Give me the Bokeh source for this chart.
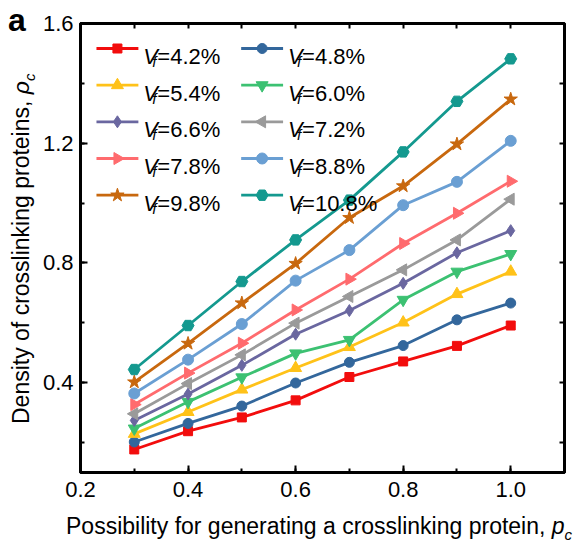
import math
from bokeh.plotting import figure
from bokeh.layouts import column, row
from bokeh.models import (LinearAxis, Range1d, SingleIntervalTicker, FixedTicker,
                          PrintfTickFormatter, Div)
from bokeh.core.properties import value
from bokeh.embed import file_html
from bokeh.resources import INLINE

# ---------------- data ----------------
p_c = [0.3, 0.4, 0.5, 0.6, 0.7, 0.8, 0.9, 1.0]
labels = ["4.2%", "4.8%", "5.4%", "6.0%", "6.6%", "7.2%", "7.8%", "8.8%", "9.8%", "10.8%"]
vf42 = [0.177, 0.238, 0.284, 0.341, 0.419, 0.471, 0.523, 0.591]
vf48 = [0.202, 0.264, 0.322, 0.399, 0.468, 0.524, 0.610, 0.666]
vf54 = [0.229, 0.302, 0.377, 0.449, 0.519, 0.601, 0.696, 0.771]
vf60 = [0.247, 0.336, 0.418, 0.498, 0.543, 0.677, 0.771, 0.830]
vf66 = [0.274, 0.362, 0.458, 0.562, 0.641, 0.732, 0.834, 0.908]
vf72 = [0.296, 0.397, 0.493, 0.599, 0.688, 0.777, 0.877, 1.013]
vf78 = [0.327, 0.432, 0.532, 0.643, 0.746, 0.865, 0.966, 1.073]
vf88 = [0.364, 0.477, 0.596, 0.741, 0.843, 0.993, 1.071, 1.208]
vf98 = [0.402, 0.531, 0.666, 0.798, 0.951, 1.057, 1.197, 1.347]
vf108 = [0.444, 0.591, 0.738, 0.877, 1.010, 1.171, 1.340, 1.482]
series = [vf42, vf48, vf54, vf60, vf66, vf72, vf78, vf88, vf98, vf108]

x_minor_ticks = [0.3, 0.4, 0.5, 0.6, 0.7, 0.8, 0.9, 1.0]
y_minor_ticks = [0.2, 0.4, 0.6, 0.8, 1.0, 1.2, 1.4]

x_title = "Possibility for generating a crosslinking protein, "
y_title = "Density of crosslinking proteins, "

# ---------------- styles ----------------
colors = ["#F20D0D", "#33679C", "#FFC219", "#3CC172", "#6A67A0",
          "#9A9A9A", "#FF6B6E", "#6A9FD3", "#C8680E", "#14998F"]
markers = ["square", "circle", "triangle", "inverted_triangle", "diamond",
           "triangle", "triangle", "circle", "star", "hex"]
angles = [0, 0, 0, 0, 0, math.pi / 2, -math.pi / 2, 0, 0, 0]
sizes = [9, 10, 12, 12, 12, 12, 12, 11, 14, 12]

XR = (0.2, 1.1)
YR = (0.1, 1.6)
W, H = 576, 546
LEFT_W = 39          # width of the div holding the y title
BOT_H = 34           # height of the div holding the x title
FIG_W, FIG_H = W - LEFT_W, H - BOT_H
FL, FR, FT, FB = 79, 564, 23, 472   # frame edges in page pixels
FONT = "Liberation Sans"


def dx(px):
    return XR[0] + (px - FL) / (FR - FL) * (XR[1] - XR[0])


def dy(py):
    return YR[1] - (py - FT) / (FB - FT) * (YR[1] - YR[0])


p = figure(width=FIG_W, height=FIG_H, x_range=Range1d(*XR), y_range=Range1d(*YR),
           output_backend="svg", toolbar_location=None, margin=0,
           min_border_left=FL - LEFT_W, min_border_right=W - FR,
           min_border_top=FT, min_border_bottom=FIG_H - FB)
p.xgrid.visible = False
p.ygrid.visible = False
p.outline_line_color = "black"
p.outline_line_width = 3
p.background_fill_color = "white"
p.border_fill_color = "white"

bottom = p.below[0]
left = p.left[0]
bottom.ticker = SingleIntervalTicker(interval=0.2, num_minor_ticks=2)
left.ticker = SingleIntervalTicker(interval=0.4, num_minor_ticks=2)
bottom.formatter = PrintfTickFormatter(format="%.1f")
left.formatter = PrintfTickFormatter(format="%.1f")

top = LinearAxis(ticker=FixedTicker(ticks=[], minor_ticks=x_minor_ticks))
right = LinearAxis(ticker=FixedTicker(ticks=[], minor_ticks=y_minor_ticks))
p.add_layout(top, "above")
p.add_layout(right, "right")

for ax in [bottom, left, top, right]:
    ax.axis_line_width = 3
    ax.axis_line_color = "black"
    ax.major_tick_line_width = 2
    ax.minor_tick_line_width = 2
    ax.major_tick_in = 7
    ax.major_tick_out = 0
    ax.minor_tick_in = 4
    ax.minor_tick_out = 0
    ax.major_label_text_font = FONT
    ax.major_label_text_font_size = "22px"
    ax.major_label_text_color = "black"
for ax in [top, right]:
    ax.minor_tick_in = 5
bottom.major_label_standoff = 9
left.major_label_standoff = 7

# ---------------- data lines ----------------
for ys, c, m, a, s in zip(series, colors, markers, angles, sizes):
    p.line(p_c, ys, line_color=c, line_width=2.8)
    p.scatter(p_c, ys, marker=m, angle=a, size=s, fill_color=c, line_color=c)

# ---------------- legend (manual) ----------------
row_y = [48, 84.7, 121.3, 158, 194.7]
col_line = [(95, 137), (240, 282)]
col_text = [142, 287]
for i, (lab, c, m, a, s) in enumerate(zip(labels, colors, markers, angles, sizes)):
    r, col = divmod(i, 2)
    y0 = row_y[r]
    x0, x1 = col_line[col]
    p.line([dx(x0), dx(x1)], [dy(y0), dy(y0)], line_color=c, line_width=2.8)
    p.scatter([dx((x0 + x1) / 2)], [dy(y0)], marker=m, angle=a, size=s,
              fill_color=c, line_color=c)
    tx = col_text[col]
    base = y0 + 8
    p.text([dx(tx)], [dy(base)], text=["V"], text_font=value(FONT),
           text_font_style="italic", text_font_size="22px",
           text_baseline="alphabetic", text_align="left", text_color="black")
    p.text([dx(tx + 9)], [dy(base + 5)], text=["f"], text_font=value(FONT),
           text_font_style="italic", text_font_size="15px",
           text_baseline="alphabetic", text_align="left", text_color="black")
    p.text([dx(tx + 14)], [dy(base)], text=["=" + lab], text_font=value(FONT),
           text_font_size="22px", text_baseline="alphabetic",
           text_align="left", text_color="black")

# ---------------- titles as HTML text ----------------
base_css = (f"font-family:'{FONT}';color:black;white-space:nowrap;margin:0;"
            "position:absolute;")
sub_css = "font-style:italic;font-size:15px;position:relative;top:6px;"

ydiv_html = (
    f'<div style="position:relative;width:{LEFT_W}px;height:{FIG_H}px;">'
    f'<div style="{base_css}left:8px;top:4px;font-size:32px;line-height:32px;'
    f'font-weight:bold;">a</div>'
    f'<div style="{base_css}left:10px;top:424px;font-size:23px;line-height:23px;'
    f'transform-origin:0 0;transform:rotate(-90deg);">{y_title}'
    f'<span style="font-style:italic;">\u03c1</span>'
    f'<span style="{sub_css}">c</span></div></div>'
)
xdiv_html = (
    f'<div style="position:relative;width:{W}px;height:{BOT_H}px;">'
    f'<div style="{base_css}left:66px;top:3px;font-size:23px;line-height:23px;">'
    f'{x_title}<span style="font-style:italic;">p</span>'
    f'<span style="{sub_css}">c</span></div></div>'
)

ydiv = Div(text=ydiv_html, width=LEFT_W, height=FIG_H, margin=0)
xdiv = Div(text=xdiv_html, width=W, height=BOT_H, margin=0)

layout = column(row(ydiv, p, margin=0, spacing=0), xdiv, margin=0, spacing=0)

open("out.html", "w").write(file_html(layout, INLINE))
